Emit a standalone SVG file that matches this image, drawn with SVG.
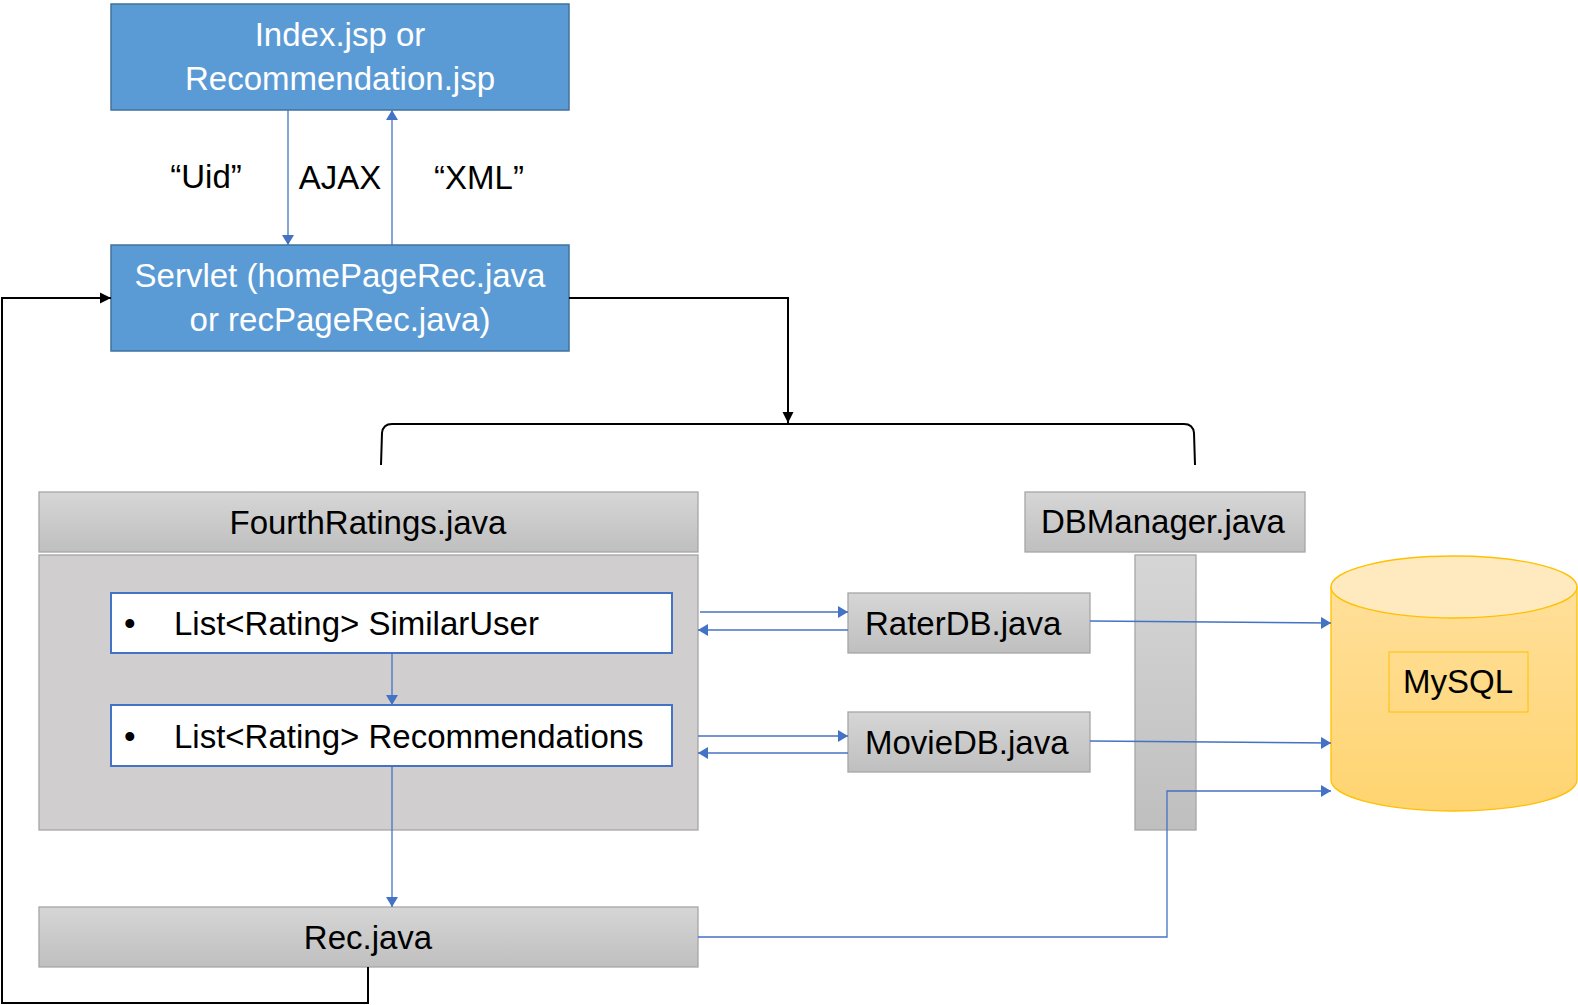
<svg xmlns="http://www.w3.org/2000/svg" width="1578" height="1005" viewBox="0 0 1578 1005">
<style>
text{font-family:"Liberation Sans",Arial,sans-serif;font-size:33px;}
.w{fill:#ffffff;text-anchor:middle;}
.k{fill:#000000;}
.c{text-anchor:middle;}
.blue{fill:#5B9BD5;stroke:#41719C;stroke-width:1.5;}
.gray{fill:url(#g);stroke:#A6A6A6;stroke-width:1.3;}
.body{fill:#D0CECE;stroke:#A6A6A6;stroke-width:1.3;}
.item{fill:#ffffff;stroke:#4472C4;stroke-width:2;}
.bl{fill:none;stroke:#4472C4;stroke-width:1.3;}
.bk{fill:none;stroke:#000000;stroke-width:2;}
</style>
<defs>
<linearGradient id="g" x1="0" y1="0" x2="0" y2="1">
<stop offset="0" stop-color="#D6D6D6"/>
<stop offset="1" stop-color="#BFBFBF"/>
</linearGradient>
<linearGradient id="cy" x1="0" y1="0" x2="0" y2="1">
<stop offset="0" stop-color="#FFDF9A"/>
<stop offset="1" stop-color="#FFD470"/>
</linearGradient>
<marker id="ab" markerUnits="userSpaceOnUse" markerWidth="12" markerHeight="12" refX="10" refY="6" orient="auto">
<path d="M0,0 L10,6 L0,12 Z" fill="#4472C4"/>
</marker>
<marker id="ak" markerUnits="userSpaceOnUse" markerWidth="12" markerHeight="12" refX="11" refY="6" orient="auto">
<path d="M0,0.5 L11,6 L0,11.5 Z" fill="#000000"/>
</marker>
</defs>
<rect width="1578" height="1005" fill="#ffffff"/>

<g id="index-jsp">
<rect class="blue" x="111" y="4" width="458" height="106"/>
<text class="w" x="340" y="46">Index.jsp or</text>
<text class="w" x="340" y="90">Recommendation.jsp</text>
</g>

<g id="servlet">
<rect class="blue" x="111" y="245" width="458" height="106"/>
<text class="w" x="340" y="287">Servlet (homePageRec.java</text>
<text class="w" x="340" y="331">or recPageRec.java)</text>
</g>

<g id="labels">
<text class="k c" x="206" y="188">“Uid”</text>
<text class="k c" x="340" y="189">AJAX</text>
<text class="k c" x="479" y="189">“XML”</text>
</g>

<g id="fourthratings">
<rect class="gray" x="39" y="492" width="659" height="60"/>
<text class="k c" x="368" y="534">FourthRatings.java</text>
<rect class="body" x="39" y="555" width="659" height="275"/>
</g>

<g id="similaruser">
<rect class="item" x="111" y="593" width="561" height="60"/>
<text class="k" x="124" y="635">•</text>
<text class="k" x="174" y="635">List&lt;Rating&gt; SimilarUser</text>
</g>

<g id="recommendations">
<rect class="item" x="111" y="705" width="561" height="61"/>
<text class="k" x="124" y="748">•</text>
<text class="k" x="174" y="748">List&lt;Rating&gt; Recommendations</text>
</g>

<g id="rec-java">
<rect class="gray" x="39" y="907" width="659" height="60"/>
<text class="k c" x="368" y="949">Rec.java</text>
</g>

<g id="dbmanager">
<rect class="gray" x="1025" y="492" width="280" height="60"/>
<text class="k c" x="1163" y="533">DBManager.java</text>
<rect class="gray" x="1135" y="555" width="61" height="275"/>
</g>

<g id="raterdb">
<rect class="gray" x="848" y="593" width="242" height="60"/>
<text class="k" x="865" y="635">RaterDB.java</text>
</g>

<g id="moviedb">
<rect class="gray" x="848" y="712" width="242" height="60"/>
<text class="k" x="865" y="754">MovieDB.java</text>
</g>

<g id="mysql">
<path d="M1331,587 L1331,780 A123,31 0 0 0 1577,780 L1577,587 Z" fill="url(#cy)" stroke="#FFC000" stroke-width="1.3"/>
<ellipse cx="1454" cy="587" rx="123" ry="31" fill="#FFEAC0" stroke="#FFC000" stroke-width="1.3"/>
<rect x="1389" y="652" width="139" height="60" fill="none" stroke="#FFC000" stroke-width="1"/>
<text class="k c" x="1458" y="693">MySQL</text>
</g>

<g id="connectors">
<line class="bl" x1="288" y1="110" x2="288" y2="245" marker-end="url(#ab)"/>
<line class="bl" x1="392" y1="245" x2="392" y2="110" marker-end="url(#ab)"/>
<polyline class="bk" points="569,298 788,298 788,423" marker-end="url(#ak)"/>
<path class="bk" d="M381,465 L382,433 Q383,424 392,424 L1184,424 Q1193,424 1194,433 L1195,465"/>
<polyline class="bk" points="368,967 368,1003 2,1003 2,298 111,298" marker-end="url(#ak)"/>
<line class="bl" x1="392" y1="653" x2="392" y2="705" marker-end="url(#ab)"/>
<line class="bl" x1="392" y1="766" x2="392" y2="907" marker-end="url(#ab)"/>
<line class="bl" x1="700" y1="612" x2="848" y2="612" marker-end="url(#ab)"/>
<line class="bl" x1="848" y1="630" x2="698" y2="630" marker-end="url(#ab)"/>
<line class="bl" x1="698" y1="736" x2="848" y2="736" marker-end="url(#ab)"/>
<line class="bl" x1="848" y1="753" x2="698" y2="753" marker-end="url(#ab)"/>
<line class="bl" x1="1090" y1="621" x2="1331" y2="623" marker-end="url(#ab)"/>
<line class="bl" x1="1090" y1="741" x2="1331" y2="743" marker-end="url(#ab)"/>
<polyline class="bl" points="698,937 1167,937 1167,791 1331,791" marker-end="url(#ab)"/>
</g>
</svg>
